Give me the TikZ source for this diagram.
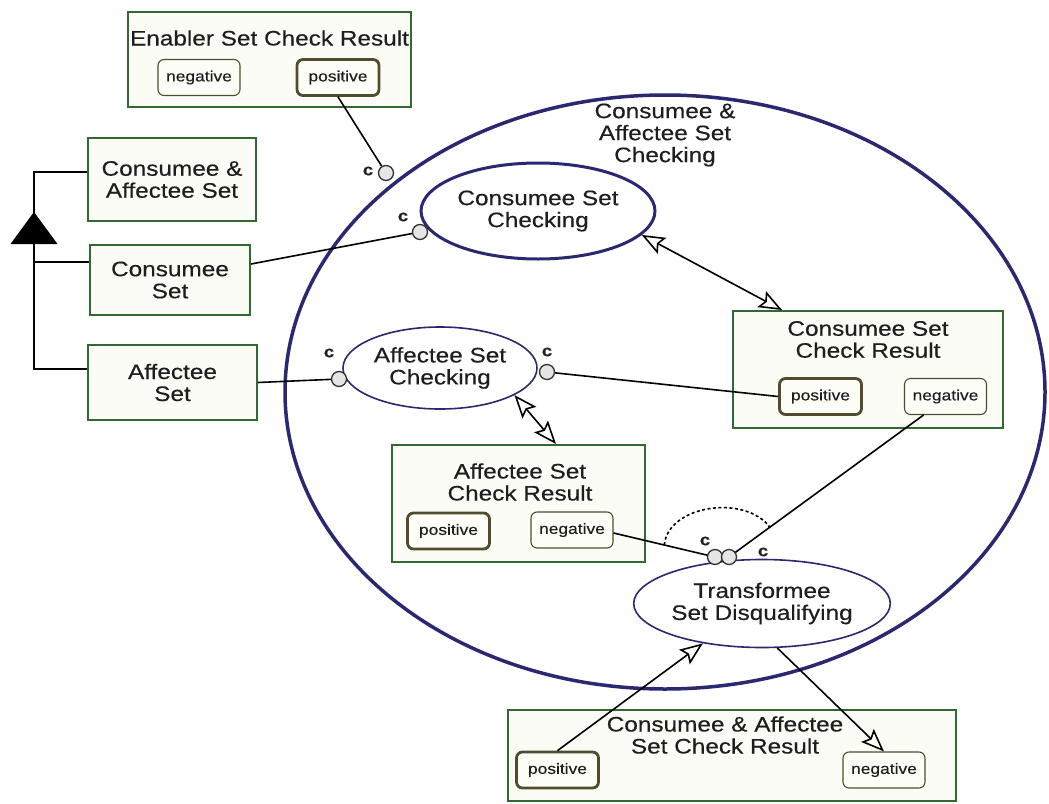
\documentclass[tikz,border=0pt]{standalone}
\usepackage{fontspec}
\setmainfont{Liberation Sans}[FakeStretch=1.16,FakeBold=0.35]
\usetikzlibrary{shapes.geometric,arrows.meta,calc}

\definecolor{boxgreen}{RGB}{50,105,50}
\definecolor{boxfill}{RGB}{250,252,245}
\definecolor{stateedge}{RGB}{80,76,45}
\definecolor{statefill}{RGB}{253,253,248}
\definecolor{procnavy}{RGB}{42,40,112}
\definecolor{inktext}{RGB}{30,30,30}

\begin{document}
\begin{tikzpicture}[x=1pt,y=-1pt,
  objbox/.style={draw=boxgreen, line width=2pt, fill=boxfill, inner sep=0pt,
    align=center, text=inktext, font=\fontsize{21}{22}\selectfont},
  titletext/.style={align=center, inner sep=0pt, text=inktext,
    font=\fontsize{21}{22}\selectfont},
  statebox/.style={draw=stateedge, rounded corners=6pt, fill=statefill,
    inner sep=0pt, minimum width=82pt, minimum height=36pt, text=inktext,
    font=\fontsize{15}{16}\selectfont},
  posstate/.style={statebox, line width=2.8pt},
  negstate/.style={statebox, line width=1.1pt},
  proc/.style={ellipse, draw=procnavy, fill=white, inner sep=0pt,
    align=center, text=inktext, font=\fontsize{21}{22}\selectfont},
  cond/.style={circle, draw=black!80, fill=black!10, line width=1.3pt,
    minimum size=15pt, inner sep=0pt},
  clabel/.style={inner sep=0pt, text=inktext,
    font=\bfseries\fontsize{16}{16}\selectfont},
  link/.style={draw=black, line width=1.6pt},
  opentip/.tip={Stealth[open,length=23pt,width=18pt,inset=4pt,fill=white,line width=1.6pt]},
  effect/.style={link, opentip-opentip},
  result/.style={link, -opentip}
]
\useasboundingbox (0,0) rectangle (1049,803);

% outer process
\node[proc, line width=3.5pt, minimum width=760pt, minimum height=594pt] (cac) at (665,392) {};
\node[titletext] (cacT) at (665,135) {Consumee \&\\Affectee Set\\Checking};

% enabler result object
\node[objbox, minimum width=283pt, minimum height=95pt] (ecr) at (269.5,59.5) {};
\node[titletext] (ecrT) at (269.5,38) {Enabler Set Check Result};
\node[negstate] (ecrN) at (199,77.5) {negative};
\node[posstate] (ecrP) at (338,77.5) {positive};

% set objects on the left
\node[objbox, minimum width=168pt, minimum height=83pt] (caSet) at (172,179.5) {Consumee \&\\Affectee Set};
\node[objbox, minimum width=160pt, minimum height=70pt] (cSet) at (170,280) {Consumee\\Set};
\node[objbox, minimum width=169pt, minimum height=75pt] (aSet) at (172.5,382.5) {Affectee\\Set};

% specialization structure
\coordinate (trunkTop) at (34,172);
\coordinate (trunkMid) at (34,262);
\coordinate (trunkBot) at (34,369);
\coordinate (spec) at (34,244);
\draw[line width=2pt] ([yshift=7.5pt]caSet.west) -- (trunkTop) -- (trunkBot) -- ([yshift=13.5pt]aSet.west);
\draw[line width=2pt] ([yshift=18pt]cSet.west) -- (trunkMid);
\fill (spec) ++(-23.5,0) -- ++(47,0) -- ++(-23.5,-32) -- cycle;

% inner processes
\node[proc, line width=3pt, minimum width=234pt, minimum height=96pt] (csc) at (538,211) {Consumee Set\\Checking};
\node[proc, line width=1.6pt, minimum width=194pt, minimum height=82pt] (asc) at (440,368) {Affectee Set\\Checking};
\node[proc, line width=1.6pt, minimum width=240pt, minimum height=88pt] (tsd) at (762,603.5) {Transformee\\Set Disqualifying};

% consumee result object
\node[objbox, minimum width=270pt, minimum height=117pt] (cscr) at (868,369.5) {};
\node[titletext] (cscrT) at (868,339.5) {Consumee Set\\Check Result};
\node[posstate] (cscrP) at (820.5,396.5) {positive};
\node[negstate] (cscrN) at (945.5,396.5) {negative};

% affectee result object
\node[objbox, minimum width=253pt, minimum height=117pt] (ascr) at (518.5,503.5) {};
\node[titletext] (ascrT) at (520,482) {Affectee Set\\Check Result};
\node[posstate] (ascrP) at (448.5,531) {positive};
\node[negstate] (ascrN) at (572,530) {negative};

% combined result object
\node[objbox, minimum width=448pt, minimum height=91pt] (cacr) at (732,755.5) {};
\node[titletext] (cacrT) at (725,735) {Consumee \& Affectee\\Set Check Result};
\node[posstate] (cacrP) at (557.5,770) {positive};
\node[negstate] (cacrN) at (884,770) {negative};

% condition links
\node[cond] (cE) at (386,173) {};
\node[clabel] (cEl) at (368,171) {c};
\node[cond] (cC) at (420,232) {};
\node[clabel] (cCl) at (403,217) {c};
\node[cond] (cA1) at (339,379) {};
\node[clabel] (cA1l) at (329,353) {c};
\node[cond] (cA2) at (547,372) {};
\node[clabel] (cA2l) at (547,352) {c};

\draw[link] (ecrP.south) -- (cE);
\draw[link] ([yshift=16pt]cSet.east) -- (cC);
\draw[link] (aSet.east) -- (cA1);
\draw[link] (cA2) -- (cscrP.west);

% disjunctive condition links into the disqualifying process
\coordinate (nA) at ([yshift=-3pt]ascrN.east);
\coordinate (nC) at ([xshift=-22pt]cscrN.south);
\draw[link] (nA) -- (715,557) coordinate (tA);
\draw[link] (nC) -- (729,557) coordinate (tC);
\node[cond] (cT1) at (tA) {};
\node[cond] (cT2) at (tC) {};
\node[clabel] (cT1l) at (705,541) {c};
\node[clabel] (cT2l) at (763,552) {c};
\coordinate (orA) at ($(nA)!0.5!(cT1)$);
\coordinate (orC) at ($(nC)!0.79!(cT2)$);
\draw[line width=1.6pt, dash pattern=on 3pt off 2.5pt] (orA) .. controls (668,505) and (745,494) .. (orC);

% effect links
\draw[effect] (csc.-13) -- ([xshift=50pt]cscr.north west);
\draw[effect] (asc.-20) -- ([xshift=165pt]ascr.north west);

% result links of the disqualifying process
\draw[result] (cacrP.north) -- (tsd.214);
\draw[result] (tsd.-71) -- (cacrN.north);

\end{tikzpicture}
\end{document}
